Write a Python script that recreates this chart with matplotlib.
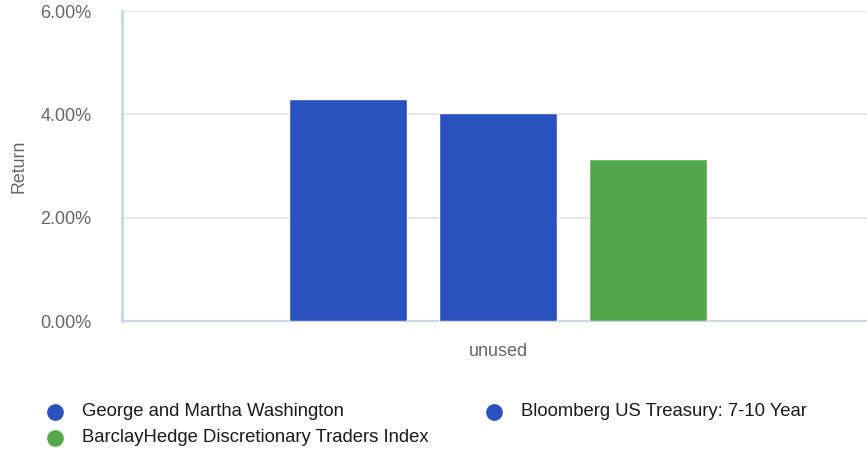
import matplotlib
matplotlib.use('Agg')
import matplotlib.pyplot as plt
from matplotlib.lines import Line2D
from matplotlib.ticker import FuncFormatter

plt.rcParams['font.family'] = ['Liberation Sans', 'DejaVu Sans']

# data
category = 'unused'
series_names = [
    'George and Martha Washington',
    'Bloomberg US Treasury: 7-10 Year',
    'BarclayHedge Discretionary Traders Index',
]
returns = [4.30, 4.03, 3.14]
colors = ['#2952be', '#2952be', '#53a84c']
y_ticks = [0, 2, 4, 6]

fig = plt.figure(figsize=(8.67, 4.51), dpi=100)
ax = fig.add_axes([122 / 867, 1 - 321 / 451, 745 / 867, 310 / 451])

positions = [-1, 0, 1]
ax.bar(positions, returns, width=118 / 150, color=colors,
       edgecolor='white', linewidth=1, zorder=3)

ax.set_xlim(-2.507, 2.46)
ax.set_ylim(0, 6)
ax.set_yticks(y_ticks)
ax.yaxis.set_major_formatter(FuncFormatter(lambda v, p: f'{v:.2f}%'))
ax.grid(axis='y', color='#e6e6e6', linewidth=1.5, zorder=0)
ax.set_axisbelow(True)

ax.set_xticks([0])
ax.set_xticklabels([category])
ax.tick_params(axis='x', length=0, pad=16, labelsize=13, labelcolor='#666666')
ax.tick_params(axis='y', length=0, pad=22, labelsize=13, labelcolor='#666666')

ax.set_ylabel('Return', fontsize=12.8, color='#666666')
ax.yaxis.set_label_coords(-0.1275, 0.5)

for side in ['top', 'right']:
    ax.spines[side].set_visible(False)
ax.spines['left'].set_color('#ccd6eb')
ax.spines['left'].set_linewidth(2.2)
ax.spines['bottom'].set_color('#ccd6eb')
ax.spines['bottom'].set_linewidth(1.5)

# legend, laid out by hand: (marker x px, y px)
legend_pos = [(55, 412), (494, 412), (55, 438)]
for name, col, (px, py) in zip(series_names, colors, legend_pos):
    fx, fy = px / 867, 1 - py / 451
    fig.add_artist(Line2D([fx], [fy], marker='o', markersize=11, color=col,
                          linestyle='none', transform=fig.transFigure))
    fig.text(fx + 27 / 867, fy, name, fontsize=13.35, color='#1a1a1a',
             va='center', ha='left')

fig.savefig('out.png', dpi=100)
